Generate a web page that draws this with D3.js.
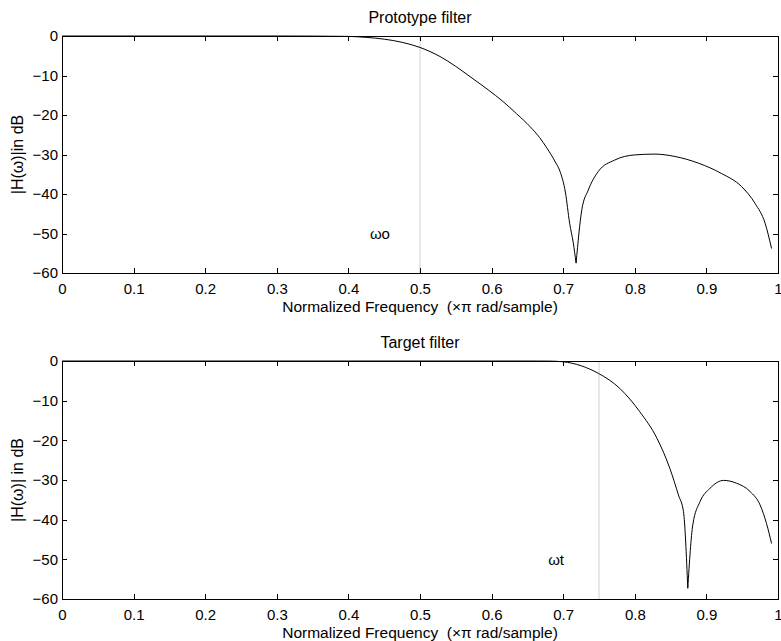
<!DOCTYPE html>
<html><head><meta charset="utf-8">
<script src="https://cdn.jsdelivr.net/npm/d3@7"></script>
<style>
body{margin:0;background:#fff}
svg text{font-family:"Liberation Sans",Arial,Helvetica,sans-serif;font-size:15px;fill:#000;white-space:pre}
svg text.big{font-size:16px}
svg text.xl{font-size:15.5px}
</style></head>
<body><svg id="c" width="781" height="641"></svg>
<script>
// ---- data ----
const xTicks = [0,0.1,0.2,0.3,0.4,0.5,0.6,0.7,0.8,0.9,1];
const xTickLabels = ["0","0.1","0.2","0.3","0.4","0.5","0.6","0.7","0.8","0.9","1"];
const yTicks = [0,-10,-20,-30,-40,-50,-60];
const yTickLabels = ["0","\u221210","\u221220","\u221230","\u221240","\u221250","\u221260"];

const protoFreq = [0,0.1,0.2,0.3,0.35,0.4,0.425,0.45,0.475,0.5,0.528,0.55,0.57,0.595,0.616,0.635,0.654,0.667,0.677,0.689,0.696,0.703,0.709,0.714,0.718,0.726,0.735,0.749,0.772,0.8,0.828,0.856,0.889,0.921,0.949,0.968,0.982,0.991];
const protoMag  = [0,0,0,0,-0.02,-0.1,-0.35,-0.8,-1.6,-2.9,-5.2,-7.7,-10.3,-13.6,-16.6,-19.7,-23,-25.7,-28.3,-31.9,-34.5,-39.5,-47.4,-52.3,-57.5,-44,-39,-34.3,-31.4,-30.1,-29.9,-30.5,-32.2,-34.8,-38.1,-42.4,-47.4,-53.8];

const targetFreq = [0,0.1,0.2,0.3,0.4,0.5,0.6,0.65,0.68,0.7,0.725,0.749,0.779,0.807,0.831,0.849,0.861,0.868,0.874,0.881,0.891,0.905,0.924,0.942,0.961,0.975,0.984,0.991];
const targetMag  = [0,0,0,0,0,0,0,0,-0.02,-0.2,-1.2,-3.1,-6.9,-12.8,-19.5,-27.1,-33.8,-38,-57.3,-41.3,-35.5,-32.1,-30.1,-30.8,-32.9,-36.3,-41,-46];

const panels = [
  {title:"Prototype filter", ylabel:"|H(\u03c9)|in dB", freq:protoFreq, mag:protoMag, marker:0.5, note:"\u03c9o", noteX:0.43, noteY:-50, top:36, bottom:273},
  {title:"Target filter", ylabel:"|H(\u03c9)| in dB", freq:targetFreq, mag:targetMag, marker:0.75, note:"\u03c9t", noteX:0.679, noteY:-50, top:361, bottom:599}
];
const xLabel = "Normalized Frequency  (\u00d7\u03c0 rad/sample)";

// ---- drawing ----
const svg = d3.select("#c");
const left = 62, right = 778;

panels.forEach(p => {
  const x = d3.scaleLinear().domain([0,1]).range([left,right]);
  const y = d3.scaleLinear().domain([-60,0]).range([p.bottom,p.top]);
  const g = svg.append("g");

  // marker line
  g.append("line").attr("x1",x(p.marker)).attr("x2",x(p.marker))
    .attr("y1",y(0)).attr("y2",y(-60)).attr("stroke","#d0d0d0").attr("stroke-width",1);

  // curve: two smooth pieces meeting at the sharp notch
  const pts = p.freq.map((f,i)=>[f,p.mag[i]]);
  const iMin = d3.minIndex(p.mag);
  const line = d3.line().x(d=>x(d[0])).y(d=>y(d[1])).curve(d3.curveMonotoneX);
  [pts.slice(0,iMin+1), pts.slice(iMin)].forEach(seg => {
    g.append("path").datum(seg).attr("d", line)
      .attr("fill","none").attr("stroke","#000").attr("stroke-width",1);
  });

  // axes
  const ax = (gen, tr) => {
    const a = g.append("g").attr("transform",tr).call(gen);
    a.select(".domain").remove();
    a.selectAll("line").attr("stroke","#000").attr("shape-rendering","crispEdges");
    a.attr("font-size",null).attr("font-family",null);
    return a;
  };
  ax(d3.axisBottom(x).tickValues(xTicks).tickFormat((d,i)=>xTickLabels[i]).tickSizeInner(-5).tickSizeOuter(0).tickPadding(10), `translate(0,${p.bottom})`);
  ax(d3.axisTop(x).tickValues(xTicks).tickFormat("").tickSizeInner(-5).tickSizeOuter(0), `translate(0,${p.top})`);
  ax(d3.axisLeft(y).tickValues(yTicks).tickFormat((d,i)=>yTickLabels[i]).tickSizeInner(-5).tickSizeOuter(0).tickPadding(4), `translate(${left},0)`);
  ax(d3.axisRight(y).tickValues(yTicks).tickFormat("").tickSizeInner(-5).tickSizeOuter(0), `translate(${right},0)`);

  // box
  g.append("rect").attr("x",left+0.5).attr("y",p.top+0.5).attr("width",right-left).attr("height",p.bottom-p.top)
    .attr("fill","none").attr("stroke","#000").attr("stroke-width",1);

  // title
  g.append("text").attr("class","big").attr("x",(left+right)/2).attr("y",p.top-13).attr("text-anchor","middle").text(p.title);
  // x label
  g.append("text").attr("class","xl").attr("x",(left+right)/2).attr("y",p.bottom+39).attr("text-anchor","middle").text(xLabel);
  // y label
  g.append("text").attr("class","big").attr("transform",`translate(23,${(p.top+p.bottom)/2}) rotate(-90)`).attr("text-anchor","middle").text(p.ylabel);
  // annotation
  g.append("text").attr("x",x(p.noteX)).attr("y",y(p.noteY)).attr("dy","0.35em").text(p.note);
});
</script></body></html>
